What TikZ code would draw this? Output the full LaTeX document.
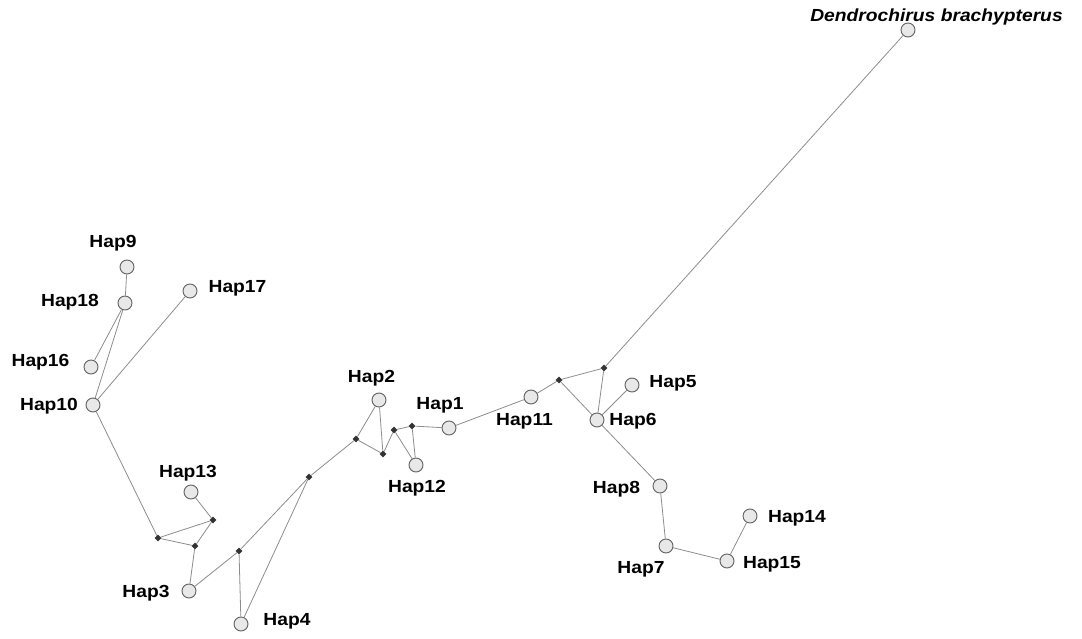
\documentclass[tikz,border=0pt]{standalone}
\usepackage{fontspec}
\setmainfont{Liberation Sans}[FakeStretch=1.1]
\usetikzlibrary{shapes.geometric}
\tikzset{
  hap/.style={circle,draw=black!62,fill=black!9,line width=0.9pt,minimum size=14pt,inner sep=0pt},
  mv/.style={diamond,fill=black!80,draw=none,minimum size=7pt,inner sep=0pt},
  lab/.style={font=\fontsize{17.5}{20}\selectfont\bfseries,inner sep=0pt,anchor=center},
  edge/.style={draw=black!45,line width=0.8pt}
}
\begin{document}
\begin{tikzpicture}[x=1pt,y=-1pt]
\useasboundingbox (0,0) rectangle (1082,639);
% haplotypes
\node[hap] (D) at (908,30) {};
\node[hap] (h9) at (127,267) {};
\node[hap] (h18) at (125,303) {};
\node[hap] (h17) at (190,291) {};
\node[hap] (h16) at (91,367) {};
\node[hap] (h10) at (93,405) {};
\node[hap] (h13) at (191,492) {};
\node[hap] (h3) at (189,591) {};
\node[hap] (h4) at (241,624) {};
\node[hap] (h2) at (379,400) {};
\node[hap] (h12) at (416,465) {};
\node[hap] (h1) at (449,428) {};
\node[hap] (h11) at (531,397) {};
\node[hap] (h6) at (597,420) {};
\node[hap] (h5) at (632,385) {};
\node[hap] (h8) at (660,486) {};
\node[hap] (h7) at (666,546) {};
\node[hap] (h15) at (727,561) {};
\node[hap] (h14) at (750,516) {};
% median vectors
\node[mv] (m1) at (158,538) {};
\node[mv] (m2) at (213,520) {};
\node[mv] (m3) at (195,546) {};
\node[mv] (m4) at (239,551) {};
\node[mv] (m5) at (309,477) {};
\node[mv] (m6) at (356,439) {};
\node[mv] (m7) at (383,454) {};
\node[mv] (m8) at (394,430) {};
\node[mv] (m9) at (412,426) {};
\node[mv] (m10) at (559,380) {};
\node[mv] (m11) at (604,368) {};
% edges
\path[edge] (h9) -- (h18);
\path[edge] (h18) -- (h16);
\path[edge] (h18) -- (h10);
\path[edge] (h17) -- (h10);
\path[edge] (h10) -- (m1);
\path[edge] (m1) -- (m2);
\path[edge] (m1) -- (m3);
\path[edge] (m2) -- (m3);
\path[edge] (m2) -- (h13);
\path[edge] (m3) -- (h3);
\path[edge] (h3) -- (m4);
\path[edge] (m4) -- (m5);
\path[edge] (m4) -- (h4);
\path[edge] (h4) -- (m5);
\path[edge] (m5) -- (m6);
\path[edge] (m6) -- (h2);
\path[edge] (h2) -- (m7);
\path[edge] (m6) -- (m7);
\path[edge] (m7) -- (m8);
\path[edge] (m8) -- (m9);
\path[edge] (m8) -- (h12);
\path[edge] (m9) -- (h12);
\path[edge] (m9) -- (h1);
\path[edge] (h1) -- (h11);
\path[edge] (h11) -- (m10);
\path[edge] (m10) -- (m11);
\path[edge] (m10) -- (h6);
\path[edge] (m11) -- (h6);
\path[edge] (m11) -- (D);
\path[edge] (h6) -- (h5);
\path[edge] (h6) -- (h8);
\path[edge] (h8) -- (h7);
\path[edge] (h7) -- (h15);
\path[edge] (h15) -- (h14);
% labels
\node[lab,font=\fontsize{17.5}{20}\selectfont\bfseries\itshape] (lD) at (936.5,16.5) {Dendrochirus brachypterus};
\node[lab] (l9) at (113,243) {Hap9};
\node[lab] (l18) at (70,302) {Hap18};
\node[lab] (l17) at (237.5,288) {Hap17};
\node[lab] (l16) at (40.5,362) {Hap16};
\node[lab] (l10) at (49,406) {Hap10};
\node[lab] (l13) at (188,473) {Hap13};
\node[lab] (l3) at (146,593) {Hap3};
\node[lab] (l4) at (287,621) {Hap4};
\node[lab] (l2) at (371.5,378) {Hap2};
\node[lab] (l1) at (440,405) {Hap1};
\node[lab] (l12) at (417,488) {Hap12};
\node[lab] (l11) at (524.5,421) {Hap11};
\node[lab] (l6) at (633,421) {Hap6};
\node[lab] (l5) at (673,383) {Hap5};
\node[lab] (l8) at (616.5,489) {Hap8};
\node[lab] (l7) at (641,569) {Hap7};
\node[lab] (l15) at (772,564) {Hap15};
\node[lab] (l14) at (797,518) {Hap14};
\end{tikzpicture}
\end{document}
